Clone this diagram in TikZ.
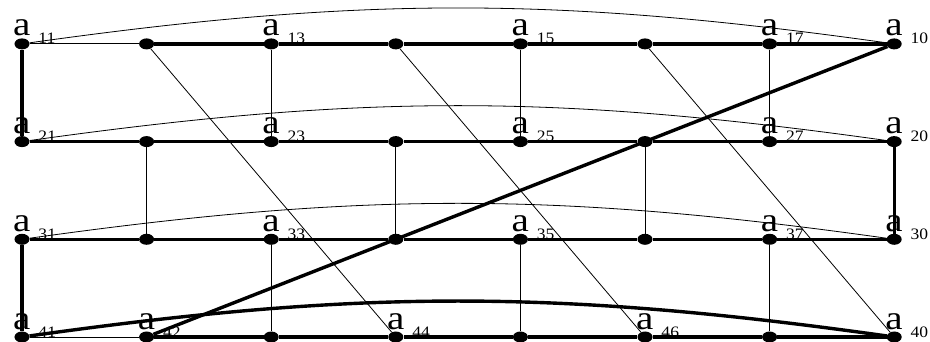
\documentclass[tikz,border=0pt]{standalone}
\usepackage{fontspec}
\setmainfont{Liberation Serif}
\usetikzlibrary{shapes.geometric}

\begin{document}
\begin{tikzpicture}[x=124.6bp,y=97.7bp,
    dot/.style={ellipse,fill=black,inner sep=0pt,minimum width=15bp,minimum height=11bp},
    thk/.style={line width=3.4bp},
    thn/.style={line width=0.8bp},
    lab/.style={anchor=base west,inner sep=0pt,font=\fontsize{34}{34}\selectfont}]
  \useasboundingbox (-22bp,-5bp) rectangle (908bp,337bp);

  % Vertices: row r from the top, column c from the left.
  \foreach \r in {1,...,4}
    \foreach \c in {1,...,8}
      \node[dot] (v\r\c) at (\c-1,4-\r) {};

  % Labels a_{..} above right of the marked vertices.
  \foreach \v/\t in {11/11,13/13,15/15,17/17,18/10,
      21/21,23/23,25/25,27/27,28/20,
      31/31,33/33,35/35,37/37,38/30,
      41/41,42/42,44/44,46/46,48/40}
    \node[lab] (l\v) at ([xshift=-9bp,yshift=8bp]v\v.center)
      {\scalebox{1.15}[1]{a}\hspace{8bp}\raisebox{-8bp}{\scalebox{1.1}[1]{\fontsize{16}{16}\selectfont\t}}};

  % Rows.
  \draw[thn] (v11) -- (v12);
  \draw[thn] (v41) -- (v42);
  \foreach \r/\s in {1/2,2/1,3/1,4/2}
    \foreach \c in {\s,...,7} {
      \pgfmathtruncatemacro\n{\c+1}
      \draw[thk] (v\r\c) -- (v\r\n);
    }

  % Rungs between the rows.
  \foreach \a/\b in {11/21,28/38,31/41}
    \draw[thk] (v\a) -- (v\b);
  \foreach \a/\b in {13/23,15/25,17/27,22/32,24/34,26/36,33/43,35/45,37/47}
    \draw[thn] (v\a) -- (v\b);

  % Diagonals.
  \foreach \a/\b in {12/44,14/46,16/48}
    \draw[thn] (v\a) -- (v\b);
  \draw[thk] (v42) -- (v18);

  % Arcs over each row.
  \foreach \r in {1,2,3}
    \draw[thn] (v\r1) to[bend left=8] (v\r8);
  \draw[thk] (v41) to[bend left=8] (v48);
\end{tikzpicture}
\end{document}
